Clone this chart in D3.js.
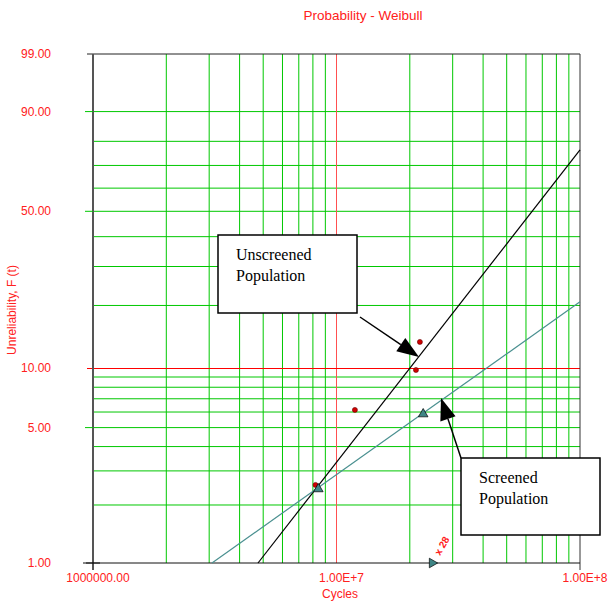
<!DOCTYPE html>
<html>
<head>
<meta charset="utf-8">
<script src="https://cdn.jsdelivr.net/npm/d3@7"></script>
<style>
  body { margin: 0; background: #fff; }
  text { font-family: "Liberation Sans", Arial, sans-serif; }
</style>
</head>
<body>
<div id="chart"></div>
<script>
// failure data (cycles, unreliability %)
const unscreenedTimes = [8.2e6, 1.19e7, 2.12e7, 2.2e7];
const unscreenedF = [2.54, 6.15, 9.75, 13.4];
const screenedTimes = [8.42e6, 2.27e7];
const screenedF = [2.42, 5.86];
// suspended units
const suspTime = [2.47e7];
const suspCount = [28];
// fitted lines, endpoints (cycles, %)
const unscreenedLineT = [4.76e6, 1e8];
const unscreenedLineF = [1.0, 76.6];
const screenedLineT = [3.08e6, 1e8];
const screenedLineF = [1.0, 20.8];

const xMajor = [1e6, 1e7, 1e8];
const xLabels = ["1000000.00", "1.00E+7", "1.00E+8"];
const yMajor = [1, 5, 10, 50, 90, 99];
const yLabels = ["1.00", "5.00", "10.00", "50.00", "90.00", "99.00"];
const xGrid = [2e6, 3e6, 4e6, 5e6, 6e6, 7e6, 8e6, 9e6, 2e7, 3e7, 4e7, 5e7, 6e7, 7e7, 8e7, 9e7];
const yGrid = [2, 3, 4, 5, 6, 7, 8, 9, 20, 30, 40, 50, 60, 70, 80, 90];

const width = 608, height = 602;
const pLeft = 93, pRight = 580, pTop = 54, pBottom = 563;

const svg = d3.select("#chart").append("svg")
  .attr("width", width).attr("height", height);

const x = d3.scaleLog().domain([1e6, 1e8]).range([pLeft, pRight]);
const w = (p) => Math.log(-Math.log(1 - p / 100));
const yLin = d3.scaleLinear().domain([w(1), w(99)]).range([pBottom, pTop]);
const y = (p) => yLin(w(p));

const green = "#00c800";

// grid
svg.append("g").selectAll("line").data(xGrid).join("line")
  .attr("x1", d => x(d)).attr("x2", d => x(d))
  .attr("y1", pTop).attr("y2", pBottom)
  .attr("stroke", green).attr("stroke-width", 1);
svg.append("g").selectAll("line").data(yGrid).join("line")
  .attr("x1", pLeft).attr("x2", pRight)
  .attr("y1", d => y(d)).attr("y2", d => y(d))
  .attr("stroke", green).attr("stroke-width", 1);

// red reference lines
svg.append("line")
  .attr("x1", x(1e7)).attr("x2", x(1e7)).attr("y1", pTop).attr("y2", pBottom)
  .attr("stroke", "#ff5050").attr("stroke-width", 1);
const y10 = Math.round(y(10)) + 0.5;
svg.append("line")
  .attr("x1", pLeft - 6).attr("x2", pRight).attr("y1", y10).attr("y2", y10)
  .attr("stroke", "#ff0000").attr("stroke-width", 1);

// frame
svg.append("line").attr("x1", pLeft - 6).attr("x2", pRight)
  .attr("y1", pTop).attr("y2", pTop).attr("stroke", "#222");
svg.append("line").attr("x1", pRight).attr("x2", pRight)
  .attr("y1", pTop).attr("y2", pBottom + 7).attr("stroke", "#333");
svg.append("line").attr("x1", pLeft).attr("x2", pLeft)
  .attr("y1", pTop).attr("y2", pBottom + 7).attr("stroke", "#555").attr("stroke-width", 2);
svg.append("line").attr("x1", pLeft - 7).attr("x2", pRight)
  .attr("y1", pBottom).attr("y2", pBottom).attr("stroke", "#111");
svg.append("line").attr("x1", pLeft - 10).attr("x2", pLeft + 7)
  .attr("y1", pBottom).attr("y2", pBottom).attr("stroke", "#111");

// y ticks + labels
svg.append("g").selectAll("line").data([5, 50, 90]).join("line")
  .attr("x1", pLeft - 8).attr("x2", pLeft)
  .attr("y1", d => y(d)).attr("y2", d => y(d))
  .attr("stroke", green);
svg.append("g").selectAll("text").data(yMajor).join("text")
  .attr("x", 51).attr("y", d => y(d) + 4)
  .attr("text-anchor", "end").attr("font-size", 12).attr("fill", "#ff2020")
  .text((d, i) => yLabels[i]);

// x labels
svg.append("g").selectAll("text").data(xMajor).join("text")
  .attr("x", d => x(d) + 5).attr("y", 582)
  .attr("text-anchor", "middle").attr("font-size", 12).attr("fill", "#ff2020")
  .text((d, i) => xLabels[i]);

// titles
svg.append("text").attr("x", 363).attr("y", 20).attr("text-anchor", "middle")
  .attr("font-size", 13.5).attr("fill", "#ff2020").text("Probability - Weibull");
svg.append("text").attr("x", 340).attr("y", 598).attr("text-anchor", "middle")
  .attr("font-size", 12).attr("fill", "#ff2020").text("Cycles");
svg.append("text").attr("transform", "translate(16,310) rotate(-90)")
  .attr("text-anchor", "middle").attr("font-size", 12).attr("fill", "#ff2020")
  .text("Unreliability, F (t)");

// fitted lines
svg.append("line")
  .attr("x1", x(unscreenedLineT[0])).attr("y1", y(unscreenedLineF[0]))
  .attr("x2", x(unscreenedLineT[1])).attr("y2", y(unscreenedLineF[1]))
  .attr("stroke", "#000").attr("stroke-width", 1.2);
svg.append("line")
  .attr("x1", x(screenedLineT[0])).attr("y1", y(screenedLineF[0]))
  .attr("x2", x(screenedLineT[1])).attr("y2", y(screenedLineF[1]))
  .attr("stroke", "#4a9090").attr("stroke-width", 1.2);

// points
svg.append("g").selectAll("circle").data(unscreenedTimes).join("circle")
  .attr("cx", d => x(d)).attr("cy", (d, i) => y(unscreenedF[i]))
  .attr("r", 2.5).attr("fill", "#d00000").attr("stroke", "#600").attr("stroke-width", 0.6);
const tri = d3.symbol().type(d3.symbolTriangle).size(40);
svg.append("g").selectAll("path").data(screenedTimes).join("path")
  .attr("d", tri)
  .attr("transform", (d, i) => `translate(${x(d)},${y(screenedF[i])})`)
  .attr("fill", "#3f8585").attr("stroke", "#000").attr("stroke-width", 0.7);

// suspensions
svg.append("g").selectAll("path").data(suspTime).join("path")
  .attr("d", tri)
  .attr("transform", d => `translate(${x(d)},${pBottom}) rotate(90)`)
  .attr("fill", "#3f8585").attr("stroke", "#000").attr("stroke-width", 0.7);
svg.append("g").selectAll("text").data(suspTime).join("text")
  .attr("transform", d => `translate(${x(d) + 8},${pBottom - 7}) rotate(-60)`)
  .attr("font-size", 10).attr("font-weight", "bold").attr("fill", "#ff2020")
  .text((d, i) => "x " + suspCount[i]);

// callouts
function callout(bx, by, bw, bh, lines, from, tip) {
  const ang = Math.atan2(tip[1] - from[1], tip[0] - from[0]);
  const len = 22, half = 8;
  const base = [tip[0] - len * Math.cos(ang), tip[1] - len * Math.sin(ang)];
  svg.append("line")
    .attr("x1", from[0]).attr("y1", from[1]).attr("x2", base[0]).attr("y2", base[1])
    .attr("stroke", "#000").attr("stroke-width", 1.5);
  const px = -Math.sin(ang) * half, py = Math.cos(ang) * half;
  svg.append("path")
    .attr("d", `M${tip[0]},${tip[1]}L${base[0] + px},${base[1] + py}L${base[0] - px},${base[1] - py}Z`)
    .attr("fill", "#000");
  svg.append("rect").attr("x", bx).attr("y", by).attr("width", bw).attr("height", bh)
    .attr("fill", "#fff").attr("stroke", "#000").attr("stroke-width", 1.5);
  svg.append("g").selectAll("text").data(lines).join("text")
    .attr("x", bx + 18).attr("y", (d, i) => by + 25 + i * 21)
    .style("font-family", "'Liberation Serif', 'Times New Roman', serif")
    .attr("font-size", 16).attr("fill", "#000")
    .text(d => d);
}
callout(218, 235, 139, 78, ["Unscreened", "Population"], [360, 317], [419, 357]);
callout(461, 458, 139, 77, ["Screened", "Population"], [461, 458], [441, 398]);
</script>
</body>
</html>
